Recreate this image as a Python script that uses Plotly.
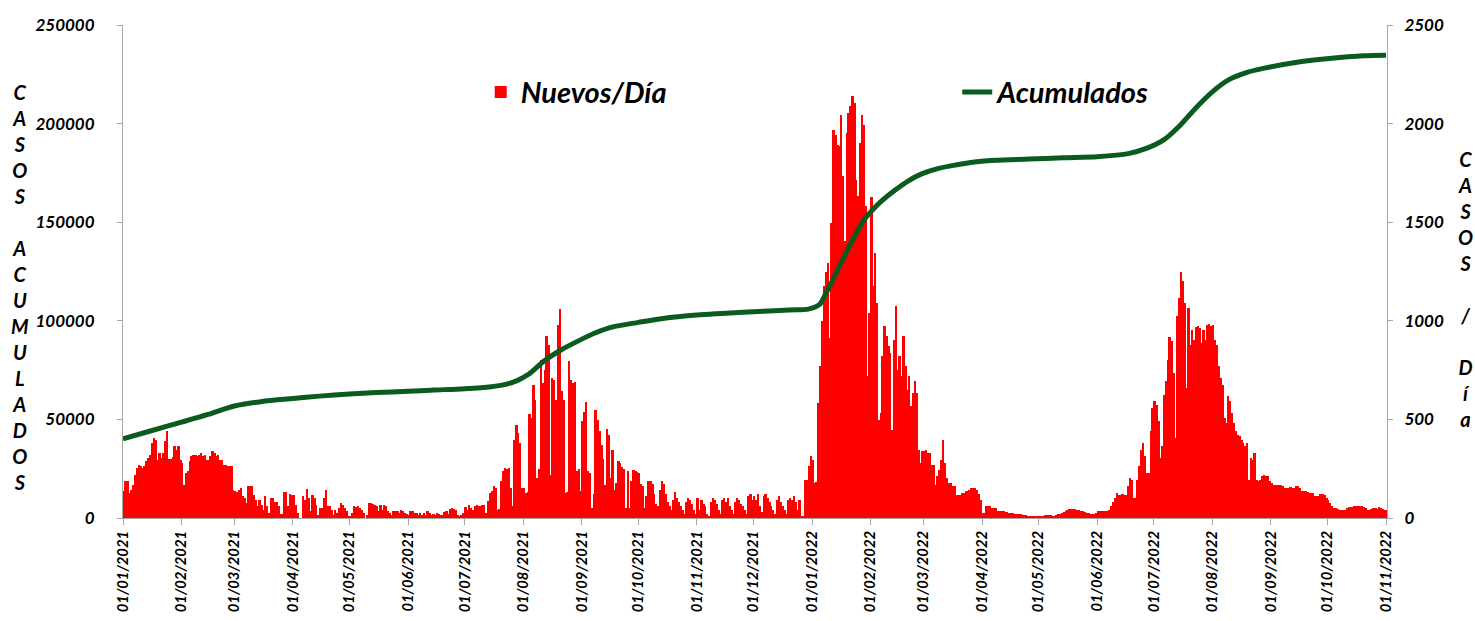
import pandas as pd
import plotly.graph_objects as go

# ---------------- DATA ----------------
start_date = "2021-01-01"
end_date = "2022-11-01"

nuevos_2021_01 = [135, 186, 186, 127, 144, 169, 220, 253, 270, 262, 253, 262, 287, 304, 321, 380, 406, 397, 296, 330, 304, 330, 389, 439, 300, 300, 310, 363, 346, 363, 296]
nuevos_2021_02 = [279, 169, 228, 237, 287, 313, 321, 321, 313, 320, 330, 313, 320, 296, 296, 313, 338, 330, 313, 320, 296, 296, 270, 270, 262, 262, 262, 144]
nuevos_2021_03 = [135, 130, 140, 152, 110, 100, 76, 160, 160, 160, 118, 93, 59, 93, 68, 42, 110, 59, 25, 100, 100, 80, 80, 60, 20, 20, 130, 130, 60, 123, 118]
nuevos_2021_04 = [118, 68, 25, 0, 0, 110, 93, 149, 101, 34, 115, 100, 68, 17, 50, 50, 101, 140, 59, 59, 42, 17, 42, 25, 50, 76, 68, 50, 34, 10]
nuevos_2021_05 = [8, 25, 59, 54, 59, 50, 42, 25, 0, 17, 76, 76, 71, 68, 59, 34, 68, 42, 68, 59, 34, 25, 17, 34, 37, 34, 25, 42, 34, 25, 20]
nuevos_2021_06 = [17, 34, 34, 25, 25, 17, 25, 17, 25, 17, 37, 25, 17, 20, 17, 25, 20, 17, 17, 30, 34, 20, 47, 50, 47, 42, 17, 8, 17, 25]
nuevos_2021_07 = [54, 40, 68, 50, 40, 60, 68, 60, 60, 68, 65, 25, 84, 127, 135, 160, 150, 40, 45, 186, 237, 253, 250, 253, 150, 60, 397, 473, 430, 380, 152]
nuevos_2021_08 = [150, 127, 130, 529, 505, 676, 600, 203, 250, 803, 684, 750, 921, 875, 220, 710, 700, 600, 977, 1060, 642, 600, 127, 130, 794, 700, 684, 690, 237, 250, 135]
nuevos_2021_09 = [490, 540, 586, 240, 230, 50, 120, 546, 497, 440, 372, 300, 169, 451, 420, 203, 346, 144, 180, 290, 280, 257, 250, 51, 237, 51, 190, 241, 240, 235]
nuevos_2021_10 = [230, 170, 160, 50, 110, 190, 190, 170, 120, 70, 60, 140, 190, 170, 120, 80, 60, 40, 90, 130, 100, 80, 60, 40, 20, 80, 100, 90, 70, 40, 20]
nuevos_2021_11 = [100, 40, 90, 70, 60, 20, 10, 80, 100, 90, 70, 40, 20, 90, 100, 80, 100, 60, 40, 20, 80, 100, 90, 70, 60, 40, 20, 110, 120, 90]
nuevos_2021_12 = [110, 90, 120, 60, 30, 110, 120, 100, 80, 60, 40, 20, 90, 110, 80, 60, 40, 20, 90, 100, 90, 110, 80, 40, 93, 10, 10, 194, 194, 262, 313]
nuevos_2022_01 = [296, 177, 185, 583, 769, 1000, 1175, 1250, 1293, 913, 1496, 1969, 1940, 1893, 1884, 2045, 1732, 1403, 1952, 2053, 2087, 2138, 2104, 1715, 1631, 1900, 2045, 1991, 1580, 718, 1039]
nuevos_2022_02 = [1630, 1175, 1343, 1090, 498, 532, 820, 972, 921, 870, 837, 448, 904, 1073, 752, 820, 718, 921, 770, 650, 718, 566, 634, 693, 634, 346, 279, 338]
nuevos_2022_03 = [338, 346, 330, 330, 270, 270, 169, 211, 245, 296, 397, 279, 203, 177, 177, 160, 160, 118, 118, 118, 127, 127, 135, 135, 140, 152, 152, 152, 140, 120, 93]
nuevos_2022_04 = [25, 25, 59, 59, 59, 50, 50, 50, 34, 34, 34, 34, 30, 30, 25, 25, 25, 20, 20, 20, 20, 15, 15, 15, 12, 12, 10, 10, 10, 10]
nuevos_2022_05 = [10, 10, 12, 15, 15, 15, 15, 12, 12, 15, 20, 20, 25, 30, 35, 40, 45, 45, 45, 45, 40, 40, 35, 35, 30, 25, 25, 20, 20, 20, 25]
nuevos_2022_06 = [34, 34, 34, 34, 34, 34, 40, 59, 80, 101, 127, 118, 118, 120, 118, 118, 160, 203, 194, 101, 101, 194, 262, 346, 380, 313, 228, 228, 439, 558]
nuevos_2022_07 = [592, 575, 490, 304, 363, 625, 693, 803, 918, 896, 735, 406, 1022, 1115, 1250, 1200, 1090, 659, 1065, 879, 955, 904, 968, 972, 963, 887, 955, 904, 980, 985, 972]
nuevos_2022_08 = [980, 904, 879, 769, 710, 676, 507, 482, 617, 592, 532, 482, 439, 422, 414, 397, 380, 363, 380, 194, 304, 296, 330, 194, 186, 194, 211, 220, 215, 211, 190]
nuevos_2022_09 = [177, 169, 169, 169, 169, 165, 160, 152, 152, 152, 155, 152, 150, 160, 160, 152, 135, 135, 135, 130, 127, 127, 125, 110, 110, 110, 120, 120, 118, 101]
nuevos_2022_10 = [90, 76, 60, 51, 51, 45, 42, 42, 42, 42, 50, 56, 56, 56, 59, 59, 59, 59, 62, 55, 50, 42, 42, 45, 51, 51, 45, 55, 50, 45, 42]
nuevos_2022_11 = [40]

acum_fechas = [
    "2021-01-01", "2021-01-15", "2021-02-01", "2021-02-15", "2021-03-01", "2021-03-15",
    "2021-04-01", "2021-04-15", "2021-05-01", "2021-05-15", "2021-06-01", "2021-06-15",
    "2021-07-01", "2021-07-15", "2021-07-22", "2021-07-29", "2021-08-04", "2021-08-12",
    "2021-08-21", "2021-08-31", "2021-09-08", "2021-09-17", "2021-10-01", "2021-10-14",
    "2021-11-01", "2021-12-01", "2021-12-20", "2021-12-30", "2022-01-05", "2022-01-08",
    "2022-01-12", "2022-01-15", "2022-01-19", "2022-01-22", "2022-01-26", "2022-01-29",
    "2022-02-02", "2022-02-07", "2022-02-14", "2022-02-21", "2022-02-28", "2022-03-09",
    "2022-03-18", "2022-03-28", "2022-04-08", "2022-04-26", "2022-05-14", "2022-06-01",
    "2022-06-18", "2022-06-27", "2022-07-06", "2022-07-15", "2022-07-23", "2022-08-01",
    "2022-08-10", "2022-08-19", "2022-08-28", "2022-09-14", "2022-10-02", "2022-10-20",
    "2022-11-01",
]
acum_valores = [
    40200, 44000, 48600, 52500, 56800, 59000,
    60600, 61800, 62850, 63600, 64260, 64900,
    65600, 66600, 67600, 69800, 73000, 79600,
    85200, 90200, 93800, 96800, 99200, 101200,
    102900, 104600, 105500, 105900, 108300, 113300,
    120700, 126800, 134400, 140200, 147200, 151800,
    156200, 160900, 166300, 171000, 174500, 177300,
    179000, 180500, 181400, 182000, 182700, 183200,
    184900, 187400, 191600, 199200, 207700, 216100,
    222400, 225900, 228000, 231000, 233000, 234400,
    234700,
]

titulo_izq = "CASOS ACUMULADOS"
titulo_der = "CASOS / Día"
nombre_barras = "Nuevos/Día"
nombre_linea = "Acumulados"

# ---------------- BUILD ----------------
nuevos = (nuevos_2021_01 + nuevos_2021_02 + nuevos_2021_03 + nuevos_2021_04 + nuevos_2021_05 +
          nuevos_2021_06 + nuevos_2021_07 + nuevos_2021_08 + nuevos_2021_09 + nuevos_2021_10 +
          nuevos_2021_11 + nuevos_2021_12 + nuevos_2022_01 + nuevos_2022_02 + nuevos_2022_03 +
          nuevos_2022_04 + nuevos_2022_05 + nuevos_2022_06 + nuevos_2022_07 + nuevos_2022_08 +
          nuevos_2022_09 + nuevos_2022_10 + nuevos_2022_11)
fechas = pd.date_range(start_date, end_date, freq="D")
assert len(fechas) == len(nuevos), (len(fechas), len(nuevos))


def stacked(text):
    # one character per line; each space becomes an empty line
    return "<br>".join(ch if ch != " " else "&nbsp;" for ch in text)


RED = "#FF0000"
GREEN = "#0B5A1E"
AXIS = "#A6A6A6"

fig = go.Figure()
fig.add_trace(go.Bar(
    x=fechas, y=nuevos, name=nombre_barras, yaxis="y",
    marker=dict(color=RED, line=dict(width=0)),
    xperiod=86400000, xperiodalignment="middle",
    legend="legend",
))
fig.add_trace(go.Scatter(
    x=pd.to_datetime(acum_fechas), y=acum_valores, name=nombre_linea, yaxis="y2",
    mode="lines", line=dict(color=GREEN, width=5, shape="spline", smoothing=0.8),
    legend="legend2",
))

tick_font_y = dict(family="Lato", size=17, color="black", weight="bold", style="italic")
tick_font_x = dict(family="Lato", size=14.8, color="black", weight="bold", style="italic")
legend_font = dict(family="Lato", size=29, color="black", weight="bold", style="italic")
title_font = dict(family="Lato", size=20, color="black", weight="bold", style="italic")

fig.update_layout(
    width=1475, height=621,
    margin=dict(l=123, r=88, t=25, b=103, autoexpand=False),
    paper_bgcolor="white", plot_bgcolor="white",
    bargap=0,
    showlegend=True,
    xaxis=dict(
        type="date", automargin=False,
        range=["2021-01-01", "2022-11-01 12:00"],
        tick0="2021-01-01", dtick="M1",
        tickformat="%d/%m/%Y", tickangle=-90,
        ticks="outside", ticklen=6, tickcolor=AXIS,
        showline=True, linecolor=AXIS, linewidth=1,
        showgrid=False, zeroline=False,
        tickfont=tick_font_x,
    ),
    yaxis=dict(
        side="right", range=[0, 2500], dtick=500, tickformat="d", automargin=False,
        ticks="outside", ticklen=5, tickcolor=AXIS, ticklabelstandoff=8,
        showline=True, linecolor=AXIS, linewidth=1,
        showgrid=False, zeroline=False,
        tickfont=tick_font_y,
    ),
    yaxis2=dict(
        overlaying="y", side="left", range=[0, 250000], dtick=50000, tickformat="d",
        automargin=False,
        ticks="outside", ticklen=5, tickcolor=AXIS, ticklabelstandoff=19,
        showline=True, linecolor=AXIS, linewidth=1,
        showgrid=False, zeroline=False,
        tickfont=tick_font_y,
    ),
    legend=dict(
        x=0.283, y=0.864, xanchor="left", yanchor="middle",
        bgcolor="rgba(0,0,0,0)", borderwidth=0, font=legend_font,
    ),
    legend2=dict(
        x=0.660, y=0.864, xanchor="left", yanchor="middle",
        bgcolor="rgba(0,0,0,0)", borderwidth=0, font=legend_font,
    ),
    annotations=[
        dict(text=stacked(titulo_izq), xref="paper", yref="paper",
             x=(20 - 123) / 1264, y=(518 - 287) / 493,
             xanchor="center", yanchor="middle", showarrow=False, font=title_font),
        dict(text=stacked(titulo_der.replace(" / ", "  /  ")).replace("&nbsp;<br>&nbsp;", "&nbsp;"),
             xref="paper", yref="paper",
             x=(1465 - 123) / 1264, y=(518 - 289) / 493,
             xanchor="center", yanchor="middle", showarrow=False, font=title_font),
    ],
)

fig.write_html(
    "out.html",
    config={"displayModeBar": False},
    post_script="document.body.style.margin='0px';document.body.style.padding='0px';"
                "document.body.style.overflow='hidden';",
)
